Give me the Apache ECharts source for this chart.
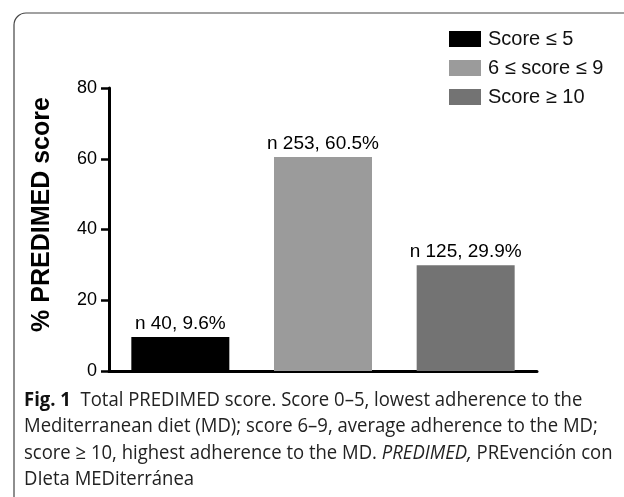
<!DOCTYPE html>
<html><head><meta charset="utf-8">
<script src="https://cdn.jsdelivr.net/npm/echarts@6/dist/echarts.min.js"></script>
<style>html,body{margin:0;padding:0;background:#fff}#c{width:624px;height:497px}</style>
</head><body><div id="c"></div>
<script>
var categories = ['Score \u2264 5', '6 \u2264 score \u2264 9', 'Score \u2265 10'];
var percentages = [9.6, 60.5, 29.9];
var counts = [40, 253, 125];
var yTicks = [0, 20, 40, 60, 80];
var captionLines = [
  '{b|Fig. 1}  Total PREDIMED score. Score 0\u20135, lowest adherence to the',
  'Mediterranean diet (MD); score 6\u20139, average adherence to the MD;',
  'score \u2265 10, highest adherence to the MD. {i|PREDIMED,} PREvenci\u00f3n con',
  'DIeta MEDiterr\u00e1nea'
];
var barColors = ['#000000', '#9b9b9b', '#737373'];

var chart = echarts.init(document.getElementById('c'));
var series = categories.map(function (name, i) {
  var d = categories.map(function (_, j) { return j === i ? percentages[i] : '-'; });
  return {
    name: name, type: 'bar', stack: 'all', barWidth: 98, data: d,
    itemStyle: { color: barColors[i] },
    label: {
      show: true, position: 'top', distance: 4, color: '#000',
      fontFamily: 'Liberation Sans', fontSize: 19,
      formatter: function () { return 'n ' + counts[i] + ', ' + percentages[i] + '%'; }
    }
  };
});
var fontF = '"Open Sans", sans-serif';
var graphics = [{
  type: 'rect', z: -1, silent: true,
  shape: { x: 14, y: 13, width: 700, height: 600, r: 12 },
  style: { fill: 'none', stroke: '#444', lineWidth: 1.2 }
}];
captionLines.forEach(function (l, k) {
  graphics.push({
    type: 'text', x: 24, y: 400 + k * 26.5, scaleX: 0.925,
    style: {
      text: l, fill: '#222', fontSize: 20, fontFamily: fontF, verticalAlign: 'middle',
      rich: {
        b: { fontWeight: 'bold', fontSize: 20, fontFamily: fontF, fill: '#111' },
        i: { fontStyle: 'italic', fontSize: 20, fontFamily: fontF, fill: '#222' }
      }
    }
  });
});
chart.setOption({
  animation: false,
  grid: { left: 109, right: 87, top: 88, bottom: 126 },
  legend: {
    orient: 'vertical', left: 449, top: 29, padding: 0, itemWidth: 32, itemHeight: 16, itemGap: 9,
    icon: 'rect', data: categories,
    textStyle: { fontFamily: 'Liberation Sans', fontSize: 20, color: '#111', padding: [0, 0, 0, 2] }
  },
  xAxis: {
    type: 'category', data: categories,
    axisLine: { lineStyle: { color: '#000', width: 3 } },
    axisTick: { alignWithLabel: true, length: 8, lineStyle: { width: 2.5, color: '#000' } },
    axisLabel: { show: false }
  },
  yAxis: {
    type: 'value', min: yTicks[0], max: yTicks[yTicks.length - 1], interval: 20,
    name: '% PREDIMED score', nameLocation: 'middle', nameGap: 54,
    nameTextStyle: { fontFamily: 'Liberation Sans', fontSize: 25, fontWeight: 'bold', color: '#000', padding: [0, 0, 0, 30] },
    splitLine: { show: false },
    axisLine: { show: true, lineStyle: { color: '#000', width: 3 } },
    axisTick: { show: true, length: 8, lineStyle: { width: 2.5, color: '#000' } },
    axisLabel: { margin: 12, fontFamily: 'Liberation Sans', fontSize: 18, color: '#000' }
  },
  series: series,
  graphic: graphics
});
</script></body></html>
